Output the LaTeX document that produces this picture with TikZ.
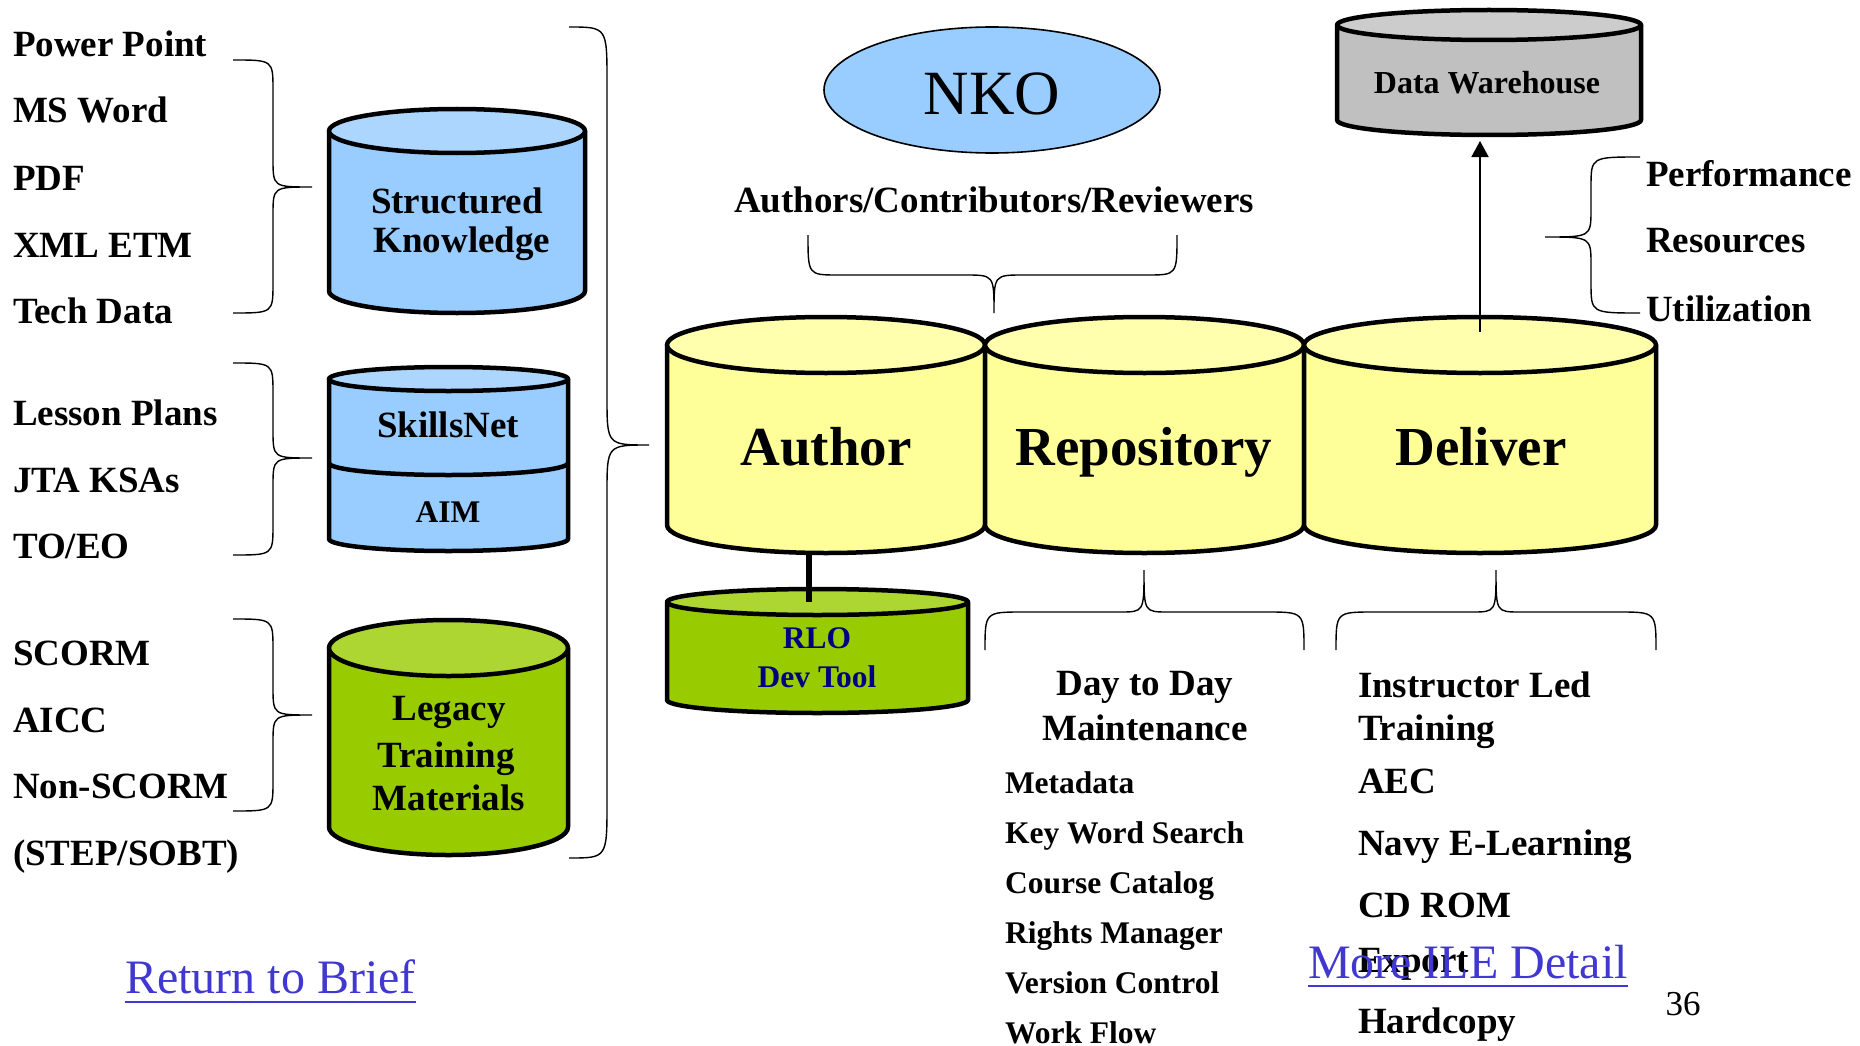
\documentclass[tikz,border=0pt]{standalone}
\usepackage{fontspec}
\setmainfont{Liberation Serif}
\usetikzlibrary{shapes.geometric,arrows.meta}

\definecolor{skyfill}{HTML}{99CCFF}
\definecolor{skytop}{HTML}{ADD6FF}
\definecolor{limefill}{HTML}{99CC00}
\definecolor{limetop}{HTML}{ADD633}
\definecolor{creamfill}{HTML}{FFFF99}
\definecolor{creamtop}{HTML}{FFFFAD}
\definecolor{greyfill}{HTML}{C0C0C0}
\definecolor{greytop}{HTML}{CCCCCC}
\definecolor{linkblue}{RGB}{64,56,208}
\definecolor{rlonavy}{HTML}{000080}

\tikzset{
  canline/.style={line width=4.5pt, line join=round},
  braceline/.style={line width=1.4pt},
  txt/.style={inner sep=0pt, outer sep=0pt, font=\bfseries\fontsize{37}{39}\selectfont},
  txtL/.style={txt, anchor=base west},
  txtC/.style={txt, anchor=base},
  smalltxt/.style={font=\bfseries\fontsize{31.5}{33}\selectfont},
  bigtxt/.style={font=\bfseries\fontsize{55}{57}\selectfont},
  linktxt/.style={inner sep=0pt, outer sep=0pt, anchor=base west, text=linkblue,
                  font=\fontsize{48}{50}\selectfont},
}

% cylinder: left x, right x, top y, bottom y, half height of the end ellipses, lid colour, body colour
\newcommand\drawcan[7]{%
  \pgfmathsetmacro\canCX{(#1+#2)/2}%
  \pgfmathsetmacro\canRX{(#2-#1)/2}%
  \pgfmathsetmacro\canYT{#3+#5}%
  \pgfmathsetmacro\canYB{#4-#5}%
  \filldraw[canline, fill=#7] (#1,\canYT) -- (#1,\canYB)
     arc[start angle=180, end angle=360, x radius=\canRX pt, y radius=#5 pt]
     -- (#2,\canYT) -- cycle;
  \filldraw[canline, fill=#6] (\canCX,\canYT) ellipse[x radius=\canRX pt, y radius=#5 pt];
}

% vertical curly brace: end x, spine x, tip x, top y, tip y, bottom y, end bend, tip bend
\newcommand\vbrace[8]{%
  \draw[braceline] (#1,#4) .. controls (#2,#4) .. (#2,#4+#7) -- (#2,#5-#8)
     .. controls (#2,#5) .. (#3,#5) .. controls (#2,#5) .. (#2,#5+#8)
     -- (#2,#6-#7) .. controls (#2,#6) .. (#1,#6);
}
% horizontal curly brace: end y, spine y, tip y, left x, tip x, right x, end bend, tip bend
\newcommand\hbrace[8]{%
  \draw[braceline] (#4,#1) .. controls (#4,#2) .. (#4+#7,#2) -- (#5-#8,#2)
     .. controls (#5,#2) .. (#5,#3) .. controls (#5,#2) .. (#5+#8,#2)
     -- (#6-#7,#2) .. controls (#6,#2) .. (#6,#1);
}

\begin{document}
\begin{tikzpicture}[x=1pt, y=-1pt]
\fill[white] (0,0) rectangle (1860,1046);
\useasboundingbox (0,0) rectangle (1860,1046);

% ---------- source formats ----------
\node[txtL] (pp)    at (13,57)  {Power Point};
\node[txtL] (msw)   at (13,123) {MS Word};
\node[txtL] (pdf)   at (13,190) {PDF};
\node[txtL] (xml)   at (13,257) {XML ETM};
\node[txtL] (tech)  at (13,323) {Tech Data};

\node[txtL] (lp)    at (13,425) {Lesson Plans};
\node[txtL] (jta)   at (13,492) {JTA KSAs};
\node[txtL] (toeo)  at (13,558) {TO/EO};

\node[txtL] (scorm) at (13,665) {SCORM};
\node[txtL] (aicc)  at (13,732) {AICC};
\node[txtL] (nscorm) at (13,798) {Non-SCORM};
\node[txtL] (stepsobt) at (13,865) {(STEP/SOBT)};

\vbrace{233}{273}{312}{60}{187}{313}{30}{28}
\vbrace{233}{273}{312}{363}{458}{555}{30}{28}
\vbrace{233}{273}{312}{619}{715}{811}{30}{28}

% ---------- source stores ----------
\drawcan{329}{585}{109}{313}{22}{skytop}{skyfill}
\node[txtC] (skTxtA) at (457,213) {Structured};
\node[txtC] (skTxtB) at (462,252) {Knowledge};

\drawcan{329}{568}{367}{551}{12}{skytop}{skyfill}
\draw[canline] (329,463) arc[start angle=180, end angle=360, x radius=119.5pt, y radius=12pt];
\node[txtC] (snTxt) at (448,437) {SkillsNet};
\node[txtC, smalltxt] (aimTxt) at (448,522) {AIM};

\drawcan{329}{568}{620}{855}{28}{limetop}{limefill}
\node[txtC] (legTxtA) at (449,720) {Legacy};
\node[txtC] (legTxtB) at (446,767) {Training};
\node[txtC] (legTxtC) at (449,810) {Materials};

\vbrace{569}{607}{649}{27}{445}{858}{55}{48}

% ---------- NKO ----------
\node[ellipse, draw, line width=1.6pt, fill=skyfill, minimum width=336pt, minimum height=126pt, inner sep=0pt] (nko) at (992,90) {};
\node[inner sep=0pt, anchor=base, font=\fontsize{63}{66}\selectfont] (nkoTxt) at (992,115) {NKO};
\node[txtC] (acr) at (994,212) {Authors/Contributors/Reviewers};
\hbrace{235}{275}{313}{808}{994}{1177}{30}{29}

% ---------- main pipeline ----------
\drawcan{667}{985}{317}{553}{28}{creamtop}{creamfill}
\drawcan{985}{1304}{317}{553}{28}{creamtop}{creamfill}
\drawcan{1304}{1656}{317}{553}{28}{creamtop}{creamfill}
\node[txtC, bigtxt] (authTxt) at (826,465) {Author};
\node[txtC, bigtxt] (repoTxt) at (1144,465) {Repository};
\node[txtC, bigtxt] (delivTxt) at (1481,465) {Deliver};

% ---------- RLO tool ----------
\drawcan{667}{968}{589}{713}{13}{limetop}{limefill}
\node[txtC, smalltxt, text=rlonavy] (rloTxtA) at (817,648) {RLO};
\node[txtC, smalltxt, text=rlonavy] (rloTxtB) at (817,687) {Dev Tool};
\coordinate (authorFoot) at (809,553);
\coordinate (rloLid) at (809,602);
\draw[line width=6pt] (authorFoot) -- (rloLid);

% ---------- data warehouse ----------
\drawcan{1337}{1641}{10}{135}{15}{greytop}{greyfill}
\node[txtC, font=\bfseries\fontsize{32}{34}\selectfont] (dwTxt) at (1487,94) {Data Warehouse};
\coordinate (deliverLid) at (1480,332);
\coordinate (dwFoot) at (1480,141);
\draw[line width=1.8pt, -{Triangle[length=16pt, width=17pt]}] (deliverLid) -- (dwFoot);

\vbrace{1640}{1591}{1545}{157}{237}{313}{30}{28}
\node[txtL] (perf) at (1646,186) {Performance};
\node[txtL] (res)  at (1646,252) {Resources};
\node[txtL] (util) at (1646,321) {Utilization};

% ---------- repository functions ----------
\hbrace{650}{612}{570}{985}{1144}{1304}{38}{24}
\node[txtC] (dtdA) at (1145,695) {Day to Day};
\node[txtC] (dtdB) at (1145,740) {Maintenance};
\node[txtL, smalltxt] (meta)  at (1005,793)  {Metadata};
\node[txtL, smalltxt] (kws)   at (1005,843)  {Key Word Search};
\node[txtL, smalltxt] (cat)   at (1005,893)  {Course Catalog};
\node[txtL, smalltxt] (rights) at (1005,943) {Rights Manager};
\node[txtL, smalltxt] (vers)  at (1005,993)  {Version Control};
\node[txtL, smalltxt] (wflow) at (1005,1043) {Work Flow};

% ---------- delivery channels ----------
\hbrace{650}{612}{570}{1336}{1496}{1656}{38}{24}
\node[txtL] (iltA)   at (1358,697)  {Instructor Led};
\node[txtL] (iltB)   at (1358,740)  {Training};
\node[txtL] (aec)    at (1358,793)  {AEC};
\node[txtL] (navy)   at (1358,855)  {Navy E-Learning};
\node[txtL] (cdrom)  at (1358,917)  {CD ROM};
\node[txtL] (export) at (1358,972)  {Export};
\node[txtL] (hcopy)  at (1358,1033) {Hardcopy};

% ---------- links and page number ----------
\node[linktxt] (ret) at (125,993) {Return to Brief};
\draw[linkblue, line width=2.6pt] ([yshift=-9pt]ret.base west) -- ([yshift=-9pt]ret.base east);
\node[linktxt] (more) at (1308,978) {More ILE Detail};
\draw[linkblue, line width=2.6pt] ([yshift=-8pt]more.base west) -- ([yshift=-8pt]more.base east);
\node[inner sep=0pt, anchor=base, font=\fontsize{35}{37}\selectfont] (pnum) at (1683,1015) {36};
\end{tikzpicture}
\end{document}
